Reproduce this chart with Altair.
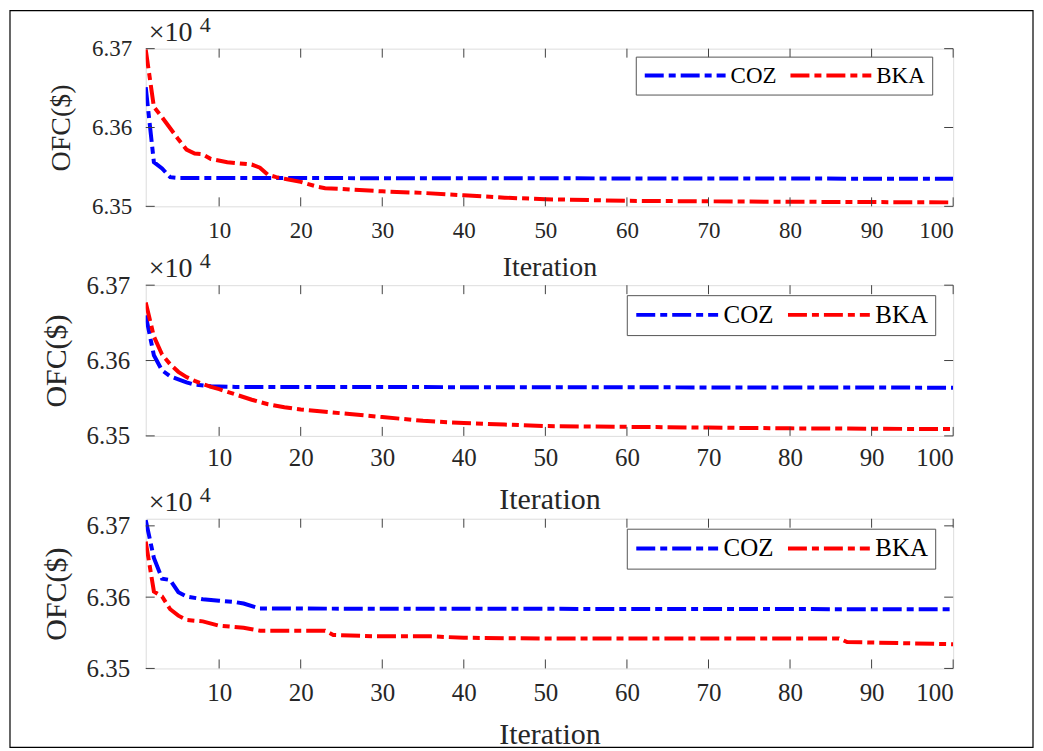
import altair as alt
import pandas as pd

FONT = "Liberation Serif"
SERIES = ["COZ", "BKA"]
COLORS = ["#0000FF", "#FF0000"]
XTICKS = [10, 20, 30, 40, 50, 60, 70, 80, 90, 100]
YTICKS = [6.35, 6.36, 6.37]
DASH = [19, 5, 7, 5]

# Panel 1
coz1_it = [1, 2, 3, 4, 5, 100]
coz1_v = [6.3651, 6.3556, 6.3548, 6.3537, 6.3536, 6.3535]
bka1_it = [1, 2, 3, 4, 5, 6, 7, 8, 9, 11, 14, 15, 16, 17, 18, 20, 22, 23, 25, 30, 35, 40, 45, 50, 60, 75, 100]
bka1_v = [6.3699, 6.3626, 6.3613, 6.3599, 6.3585, 6.3572, 6.3567, 6.3566, 6.3560, 6.3556, 6.3553, 6.3549,
          6.3540, 6.3537, 6.3535, 6.3531, 6.3525, 6.3523, 6.3522, 6.3519, 6.3517, 6.3514, 6.3511, 6.3509,
          6.3507, 6.3506, 6.3505]

# Panel 2
coz2_it = [1, 2, 3, 4, 5, 6, 7, 9, 12, 100]
coz2_v = [6.3660, 6.3607, 6.3587, 6.3579, 6.3575, 6.3571, 6.3568, 6.3566, 6.3565, 6.3564]
bka2_it = [1, 2, 3, 4, 5, 6, 7, 8, 9, 10, 12, 14, 16, 18, 20, 23, 26, 30, 35, 40, 45, 50, 60, 70, 80, 100]
bka2_v = [6.3677, 6.3632, 6.3608, 6.3595, 6.3585, 6.3578, 6.3573, 6.3569, 6.3565, 6.3562, 6.3555, 6.3548,
          6.3542, 6.3538, 6.3535, 6.3532, 6.3529, 6.3525, 6.3520, 6.3517, 6.3515, 6.3513, 6.3512, 6.3511,
          6.3510, 6.3509]

# Panel 3
coz3_it = [1, 2, 3, 4, 5, 6, 8, 10, 12, 13, 15, 100]
coz3_v = [6.3708, 6.3655, 6.3626, 6.3624, 6.3607, 6.3601, 6.3597, 6.3595, 6.3593, 6.3591, 6.3584, 6.3583]
bka3_it = [1, 2, 3, 4, 5, 6, 7, 8, 10, 13, 14, 15, 23, 24, 29, 36, 40, 50, 86, 87, 100]
bka3_v = [6.3678, 6.3608, 6.3601, 6.3583, 6.3574, 6.3568, 6.3567, 6.3566, 6.3560, 6.3557, 6.3555, 6.3553,
          6.3553, 6.3547, 6.3545, 6.3545, 6.3543, 6.3542, 6.3542, 6.3537, 6.3534]

W = 809


def panel(coz_it, coz_v, bka_it, bka_v, ydom, H, tick_fs, title_fs, leg_fs, legx, legy,
          xlab_pad, xtitle_pad, ylab_pad, ytitle_pad, sym_len, frame=False):
    df = pd.DataFrame({
        "it": coz_it + bka_it,
        "v": coz_v + bka_v,
        "s": ["COZ"] * len(coz_it) + ["BKA"] * len(bka_it),
    })
    xs = alt.Scale(domain=[1, 100], nice=False, zero=False)
    ys = alt.Scale(domain=ydom, nice=False, zero=False)
    xaxis = alt.Axis(
        values=XTICKS, ticks=False, domain=False, grid=False,
        labelFont=FONT, labelFontSize=tick_fs, labelPadding=xlab_pad, labelColor="#262626",
        title="Iteration", titleFont=FONT, titleFontSize=title_fs, titleFontWeight="normal",
        titlePadding=xtitle_pad, titleColor="#262626")
    yaxis = alt.Axis(
        values=YTICKS, format=".2f", ticks=False, domain=False, grid=False,
        labelFont=FONT, labelFontSize=tick_fs, labelPadding=ylab_pad, labelColor="#262626",
        title="OFC($)", titleFont=FONT, titleFontSize=title_fs, titleFontWeight="normal",
        titlePadding=ytitle_pad, titleColor="#262626")
    X = alt.X("it:Q", scale=xs, axis=xaxis, title="Iteration")
    Y = alt.Y("v:Q", scale=ys, axis=yaxis, title="OFC($)")
    # legend symbol: a horizontal stroke of length sym_len starting at the entry's left edge
    r = 10.0
    k = sym_len / (2 * r)
    path = f"M-1,0L{2 * k - 1:.3f},0"
    lines = alt.Chart(df).mark_line(strokeWidth=4, strokeDash=DASH, strokeCap="butt", clip=True).encode(
        x=X, y=Y,
        color=alt.Color("s:N", scale=alt.Scale(domain=SERIES, range=COLORS), legend=alt.Legend(
            title=None, orient="none", legendX=legx, legendY=legy, direction="horizontal",
            symbolType=path, symbolSize=(2 * r) ** 2, symbolStrokeWidth=4,
            symbolDash=DASH, labelFont=FONT, labelFontSize=leg_fs, labelColor="black",
            strokeColor="#555555", fillColor="white", padding=7,
            labelOffset=sym_len - 2 * r + 3, columnPadding=6)),
    )
    xt = pd.DataFrame({"it": XTICKS})
    yt = pd.DataFrame({"v": YTICKS})
    tick_color = "#404040"
    xb = alt.Chart(xt).mark_rule(color=tick_color, strokeWidth=1).encode(
        x=X, y=alt.value(H), y2=alt.value(H - 9))
    xtop = alt.Chart(xt).mark_rule(color=tick_color, strokeWidth=1).encode(
        x=X, y=alt.value(0), y2=alt.value(9))
    yl = alt.Chart(yt).mark_rule(color=tick_color, strokeWidth=1).encode(
        y=Y, x=alt.value(0), x2=alt.value(9))
    yr = alt.Chart(yt).mark_rule(color=tick_color, strokeWidth=1).encode(
        y=Y, x=alt.value(W - 9), x2=alt.value(W))
    t1 = alt.Chart(pd.DataFrame({"t": ["\u00d710"]})).mark_text(
        font=FONT, fontSize=28, align="left", baseline="alphabetic", color="#262626").encode(
        x=alt.value(3), y=alt.value(-8), text="t:N")
    t2 = alt.Chart(pd.DataFrame({"t": ["4"]})).mark_text(
        font=FONT, fontSize=22, align="left", baseline="alphabetic", color="#262626").encode(
        x=alt.value(54), y=alt.value(-17), text="t:N")
    layers = [lines, xb, xtop, yl, yr, t1, t2]
    if frame:
        # thin outer border of the whole figure
        fr = alt.Chart(pd.DataFrame({"f": [0]})).mark_rect(
            fillOpacity=0, stroke="#000000", strokeWidth=1.2).encode(
            x=alt.value(-136), x2=alt.value(889), y=alt.value(-38), y2=alt.value(700))
        layers.append(fr)
    return alt.layer(*layers).properties(width=W, height=H)


p1 = panel(coz1_it, coz1_v, bka1_it, bka1_v, [6.35, 6.37], 158, 23, 28, 23, 491, 8, 13, 11, 14, 16, 81, frame=True)
p2 = panel(coz2_it, coz2_v, bka2_it, bka2_v, [6.35, 6.37], 151, 25, 30, 25, 482, 10, 10, 14, 16, 15, 82)
p3 = panel(coz3_it, coz3_v, bka3_it, bka3_v, [6.35, 6.371], 150, 25, 30, 25, 482, 10, 12, 14, 16, 15, 82)

lower = alt.vconcat(p2, p3, spacing=83, bounds="flush").resolve_scale(color="independent").resolve_legend(color="independent")
chart = alt.vconcat(p1, lower, spacing=79, bounds="flush").resolve_scale(
    color="independent").resolve_legend(color="independent").properties(
    padding={"left": 0, "top": 0, "right": 0, "bottom": 0}
).configure_view(stroke="#404040", strokeWidth=1).configure(background="white")

chart.save("out.html", embed_options={"renderer": "svg", "actions": False})
